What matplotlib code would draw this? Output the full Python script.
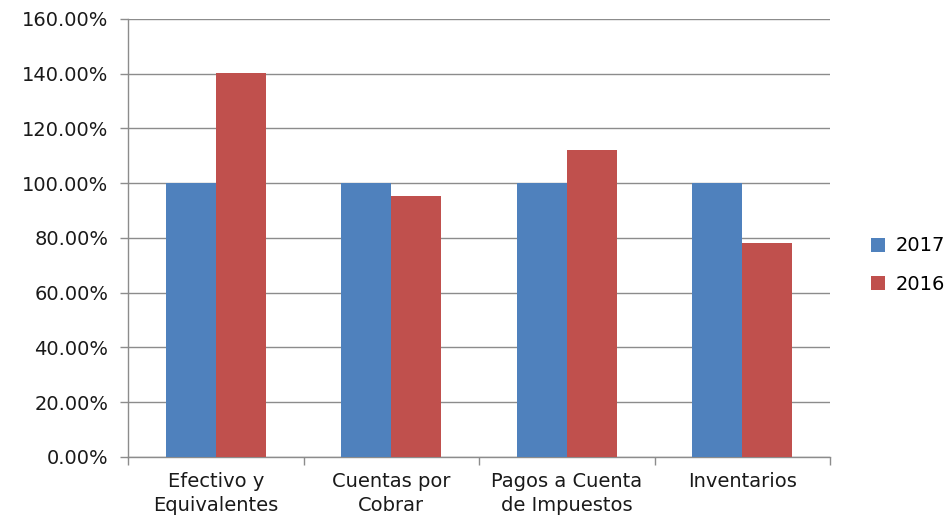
import matplotlib.pyplot as plt
import numpy as np
from matplotlib.ticker import FuncFormatter, MultipleLocator

categories = ['Efectivo y\nEquivalentes', 'Cuentas por\nCobrar',
              'Pagos a Cuenta\nde Impuestos', 'Inventarios']
v2017 = [100.0, 100.0, 100.0, 100.0]
v2016 = [140.3, 95.5, 112.3, 78.2]

plt.rcParams['font.family'] = ['DejaVu Sans']

fig = plt.figure(figsize=(9.53, 5.19), dpi=100)
ax = fig.add_axes([0.1343, 0.1195, 0.7367, 0.8439])

x = np.arange(len(categories))
w = 1 / 3.5
ax.bar(x - w / 2, v2017, w, color='#4F81BD', label='2017', zorder=3)
ax.bar(x + w / 2, v2016, w, color='#C0504D', label='2016', zorder=3)

ax.set_xlim(-0.5, len(categories) - 0.5)
ax.set_ylim(0, 160)
ax.yaxis.set_major_locator(MultipleLocator(20))
ax.yaxis.set_major_formatter(FuncFormatter(lambda v, p: f'{v:.2f}%'))
ax.grid(axis='y', color='#8c8c8c', lw=1, zorder=0)

# category labels at centers, tick marks at boundaries
ax.set_xticks(x)
ax.set_xticklabels(categories, fontsize=14, color='#1a1a1a', linespacing=1.3)
ax.set_xticks(np.arange(len(categories) + 1) - 0.5, minor=True)
ax.tick_params(axis='x', which='major', length=0, pad=11)
ax.tick_params(axis='x', which='minor', length=6, color='#8c8c8c', width=1)
ax.tick_params(axis='y', length=6, color='#8c8c8c', width=1, labelsize=14,
               labelcolor='#1a1a1a', pad=8)

for s in ['top', 'right']:
    ax.spines[s].set_visible(False)
for s in ['left', 'bottom']:
    ax.spines[s].set_color('#8c8c8c')
    ax.spines[s].set_linewidth(1)

ax.legend(loc='center left', bbox_to_anchor=(1.0, 0.438), frameon=False,
          fontsize=14, handlelength=0.75, handleheight=0.75, labelspacing=1.0,
          handletextpad=0.5, borderaxespad=1.7)

fig.savefig('out.png', dpi=100)
